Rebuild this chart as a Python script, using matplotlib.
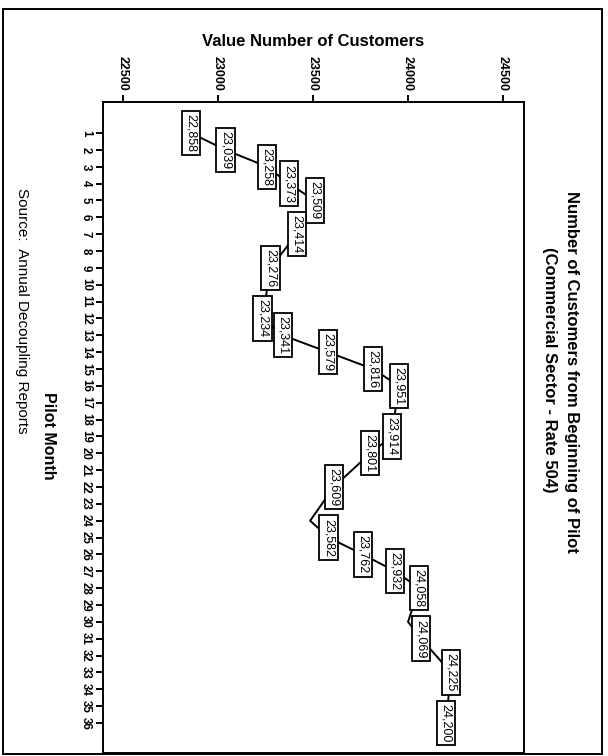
import matplotlib.pyplot as plt
from matplotlib.patches import Rectangle

plt.rcParams['font.family'] = ['Liberation Sans', 'DejaVu Sans']

# Pilot month and customer count (labelled points)
months = [1, 2, 3, 4, 5, 7, 9, 12, 13, 14, 15, 16, 19, 20, 22, 24, 25, 26, 27, 28, 30, 31, 33, 36]
customers = [22858, 23039, 23258, 23373, 23509, 23414, 23276, 23234, 23341, 23579, 23816, 23951,
             23914, 23801, 23609, 23485, 23582, 23762, 23932, 24058, 24000, 24069, 24225, 24200]
shown = [True] * 15 + [False] + [True] * 4 + [False] + [True] * 3

value_ticks = [22500, 23000, 23500, 24000, 24500]
month_ticks = list(range(1, 37))

W, H = 608, 756
fig = plt.figure(figsize=(W / 100, H / 100), dpi=100)
ax = fig.add_axes([103 / W, 3 / H, 421 / W, 651 / H])

ax.plot(customers, months, color='black', lw=1.4, zorder=2)
for v, m, s in zip(customers, months, shown):
    if not s:
        continue
    ax.text(v, m, f"{v:,}", rotation=-90, ha='center', va='center', fontsize=9, zorder=3,
            bbox=dict(boxstyle='square,pad=0.25', fc='white', ec='black', lw=1.3))

ax.set_xlim(22395, 24610)
ax.set_ylim(37.78, -0.84)
ax.xaxis.tick_top()
ax.set_xticks(value_ticks)
ax.set_xticklabels([str(t) for t in value_ticks], rotation=-90, fontsize=9, fontweight='bold')
ax.set_yticks(month_ticks)
ax.set_yticklabels([str(t) for t in month_ticks], rotation=-90, fontsize=8.3, va='center',
                   fontweight='bold')
ax.tick_params(axis='both', direction='out', length=5, width=1.4, pad=3)
for sp in ax.spines.values():
    sp.set_linewidth(1.4)

fig.text(313 / W, 1 - 42 / H, "Value Number of Customers", ha='center', va='center',
         fontsize=12, fontweight='bold')
fig.text(571 / W, 1 - 372 / H, "Number of Customers from Beginning of Pilot", rotation=-90,
         ha='center', va='center', fontsize=12, fontweight='bold')
fig.text(549 / W, 1 - 370 / H, "(Commercial Sector - Rate 504)", rotation=-90,
         ha='center', va='center', fontsize=12, fontweight='bold')
fig.text(48 / W, 1 - 436 / H, "Pilot Month", rotation=-90, ha='center', va='center',
         fontsize=11.5, fontweight='bold')
fig.text(22 / W, 1 - 311 / H, "Source:  Annual Decoupling Reports", rotation=-90,
         ha='center', va='center', fontsize=11)

fig.patches.append(Rectangle((3 / W, 2 / H), 599 / W, 745 / H, transform=fig.transFigure,
                             fill=False, ec='black', lw=1.4))

fig.savefig("out.png", dpi=100)
